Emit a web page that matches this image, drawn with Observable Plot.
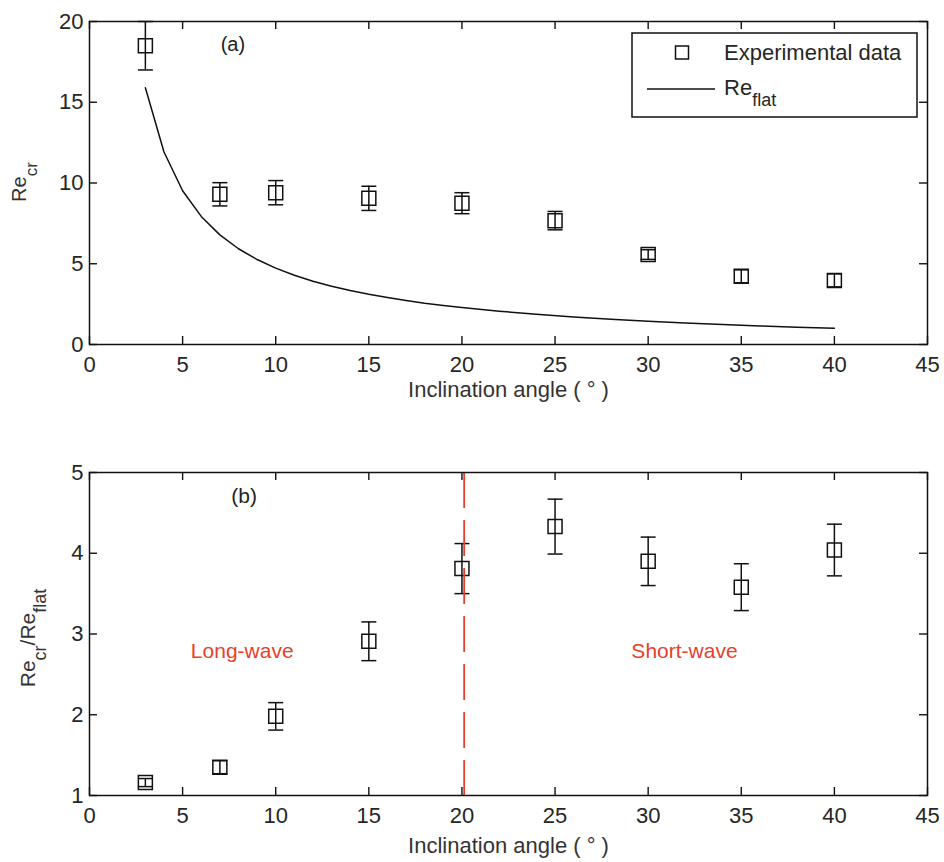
<!DOCTYPE html>
<html><head><meta charset="utf-8">
<script src="https://cdn.jsdelivr.net/npm/d3@7"></script>
<script src="https://cdn.jsdelivr.net/npm/@observablehq/plot@0.6"></script>
<style>
html,body{margin:0;padding:0;background:#fff;}
#wrap{position:relative;width:944px;height:862px;overflow:hidden;background:#fff;}
#wrap > svg{display:block;}
#overlay{position:absolute;left:0;top:0;pointer-events:none;}
</style></head><body><div id="wrap"></div>
<script>
// ---- data ----
const angles = [3, 7, 10, 15, 20, 25, 30, 35, 40];
const reCr = [18.5, 9.3, 9.4, 9.05, 8.75, 7.67, 5.57, 4.22, 3.97];
const reCrErr = [1.5, 0.72, 0.75, 0.75, 0.65, 0.57, 0.3, 0.4, 0.4];
const flatAngles = [3, 4, 5, 6, 7, 8, 9, 10, 11, 12, 13, 14, 15, 16, 17, 18, 19, 20, 22, 24, 26, 28, 30, 32, 34, 36, 38, 40];
const reFlat = [15.9, 11.92, 9.52, 7.93, 6.79, 5.93, 5.26, 4.73, 4.29, 3.92, 3.61, 3.34, 3.11, 2.91, 2.73, 2.56, 2.42, 2.29, 2.06, 1.87, 1.71, 1.57, 1.44, 1.33, 1.24, 1.15, 1.07, 1.0];
const ratio = [1.16, 1.35, 1.98, 2.91, 3.81, 4.33, 3.9, 3.58, 4.04];
const ratioErr = [0.05, 0.08, 0.17, 0.24, 0.31, 0.34, 0.3, 0.29, 0.32];
const divideAngle = 20.12;
const xTicks = [0, 5, 10, 15, 20, 25, 30, 35, 40, 45];
const yTicksA = [0, 5, 10, 15, 20];
const yTicksB = [1, 2, 3, 4, 5];
const notesA = [{x: 7.7, y: 18.55, text: "(a)"}];
const notesB = [{x: 8.3, y: 4.71, text: "(b)", color: "#222"},
                {x: 8.2, y: 2.79, text: "Long-wave", color: "#e8402a"},
                {x: 31.95, y: 2.79, text: "Short-wave", color: "#e8402a"}];

// ---- styling ----
const FONT = "'Liberation Sans', Arial, Helvetica, sans-serif";
const W = 944;
const RED = "#e8402a";
const boxSymbol = {draw(ctx, size) { const r = Math.sqrt(size / Math.PI); ctx.moveTo(-r, -r); ctx.lineTo(r, -r); ctx.lineTo(r, r); ctx.lineTo(-r, r); ctx.closePath(); }};
const capSymbol = {draw(ctx, size) { const r = Math.sqrt(size / Math.PI); ctx.moveTo(-r, 0); ctx.lineTo(r, 0); }};

const rowsA = angles.map((a, i) => ({a, v: reCr[i], lo: reCr[i] - reCrErr[i], hi: reCr[i] + reCrErr[i]}));
const rowsB = angles.map((a, i) => ({a, v: ratio[i], lo: ratio[i] - ratioErr[i], hi: ratio[i] + ratioErr[i]}));
const flatRows = flatAngles.map((a, i) => ({a, v: reFlat[i]}));

function inwardTicks(yTicks, fw, fh, len) {
  const s = {stroke: "#111", strokeWidth: 1.4};
  return [
    Plot.tickX(xTicks, {x: d => d, insetTop: fh - len, ...s}),
    Plot.tickX(xTicks, {x: d => d, insetBottom: fh - len, ...s}),
    Plot.tickY(yTicks, {y: d => d, insetRight: fw - len, ...s}),
    Plot.tickY(yTicks, {y: d => d, insetLeft: fw - len, ...s})
  ];
}
function errMarks(rows) {
  return [
    Plot.ruleX(rows, {x: "a", y1: "lo", y2: "hi", stroke: "#111", strokeWidth: 1.5}),
    Plot.dot(rows, {x: "a", y: "lo", symbol: capSymbol, r: 7.5, stroke: "#111", strokeWidth: 1.5}),
    Plot.dot(rows, {x: "a", y: "hi", symbol: capSymbol, r: 7.5, stroke: "#111", strokeWidth: 1.5}),
    Plot.dot(rows, {x: "a", y: "v", symbol: boxSymbol, r: 7, stroke: "#111", fill: "none", strokeWidth: 1.5})
  ];
}
const baseStyle = {fontFamily: FONT, fontSize: "22px", color: "#262626", background: "#fff", overflow: "visible"};
const fmt = d => String(d);

// ---- panel (a) ----
const hA = 420, mtA = 21, mbA = 76, mlA = 89, mrA = 17;
const fwA = W - mlA - mrA, fhA = hA - mtA - mbA;
const plotA = Plot.plot({
  width: W, height: hA, marginTop: mtA, marginBottom: mbA, marginLeft: mlA, marginRight: mrA,
  style: baseStyle,
  x: {domain: [0, 45]},
  y: {domain: [0, 20]},
  marks: [
    Plot.line(flatRows, {x: "a", y: "v", stroke: "#111", strokeWidth: 1.5}),
    ...errMarks(rowsA),
    ...inwardTicks(yTicksA, fwA, fhA, 8),
    Plot.frame({stroke: "#111", strokeWidth: 1.5}),
    Plot.axisX(xTicks, {anchor: "bottom", tickSize: 0, tickPadding: 12, label: null, tickFormat: fmt}),
    Plot.axisY(yTicksA, {anchor: "left", tickSize: 0, tickPadding: 6, label: null, tickFormat: fmt}),
    Plot.text(notesA, {x: "x", y: "y", text: "text", fontSize: 20, fill: "#222"}),
    Plot.text(["Inclination angle ( ° )"], {frameAnchor: "bottom", dy: 37, lineAnchor: "top", text: d => d, fill: "#333"})
  ]
});

// ---- panel (b) ----
const hB = 442, mtB = 52, mbB = 67, mlB = 89, mrB = 17;
const fwB = W - mlB - mrB, fhB = hB - mtB - mbB;
const plotB = Plot.plot({
  width: W, height: hB, marginTop: mtB, marginBottom: mbB, marginLeft: mlB, marginRight: mrB,
  style: baseStyle,
  x: {domain: [0, 45]},
  y: {domain: [1, 5]},
  marks: [
    ...errMarks(rowsB),
    Plot.ruleX([divideAngle], {x: d => d, stroke: RED, strokeWidth: 1.8, strokeDasharray: "36,12"}),
    ...inwardTicks(yTicksB, fwB, fhB, 8),
    Plot.frame({stroke: "#111", strokeWidth: 1.5}),
    Plot.axisX(xTicks, {anchor: "bottom", tickSize: 0, tickPadding: 12, label: null, tickFormat: fmt}),
    Plot.axisY(yTicksB, {anchor: "left", tickSize: 0, tickPadding: 6, label: null, tickFormat: fmt}),
    Plot.text(notesB, {x: "x", y: "y", text: "text", fontSize: 21, fill: d => d.color}),
    Plot.text(["Inclination angle ( ° )"], {frameAnchor: "bottom", dy: 42, lineAnchor: "top", text: d => d, fill: "#333"})
  ]
});

const wrap = document.getElementById("wrap");
wrap.appendChild(plotA);
wrap.appendChild(plotB);

// ---- rotated y labels with subscripts ----
function yLabel(svg, x, cy, parts, main, subSize, drop) {
  const t = d3.select(svg).append("text")
    .attr("transform", `translate(${x},${cy}) rotate(-90)`)
    .attr("text-anchor", "middle")
    .attr("fill", "#333")
    .attr("font-family", FONT)
    .attr("font-size", main);
  let shift = 0;
  for (const [txt, sub] of parts) {
    const want = sub ? drop : 0;
    t.append("tspan").attr("dy", want - shift).attr("font-size", sub ? subSize : main).text(txt);
    shift = want;
  }
}
yLabel(plotA, 26, 182, [["Re", false], ["cr", true]], 20, 17, 11);
yLabel(plotB, 35, 638 - 420, [["Re", false], ["cr", true], ["/Re", false], ["flat", true]], 21, 18, 11);

// ---- legend overlay ----
const ov = d3.select(wrap).append("svg").attr("id", "overlay").attr("width", W).attr("height", 862);
ov.append("rect").attr("x", 632).attr("y", 33).attr("width", 285).attr("height", 84)
  .attr("fill", "#fff").attr("stroke", "#111").attr("stroke-width", 1.5);
ov.append("rect").attr("x", 675.5).attr("y", 46).attr("width", 13).attr("height", 13)
  .attr("fill", "none").attr("stroke", "#111").attr("stroke-width", 1.5);
ov.append("text").attr("x", 724).attr("y", 60).attr("font-family", FONT).attr("font-size", 22).attr("fill", "#262626").text("Experimental data");
ov.append("line").attr("x1", 647).attr("x2", 715).attr("y1", 89).attr("y2", 89).attr("stroke", "#111").attr("stroke-width", 1.5);
const lt = ov.append("text").attr("x", 724).attr("y", 95).attr("font-family", FONT).attr("font-size", 22).attr("fill", "#262626");
lt.append("tspan").text("Re");
lt.append("tspan").attr("dy", 11).attr("font-size", 18).text("flat");
</script></body></html>
